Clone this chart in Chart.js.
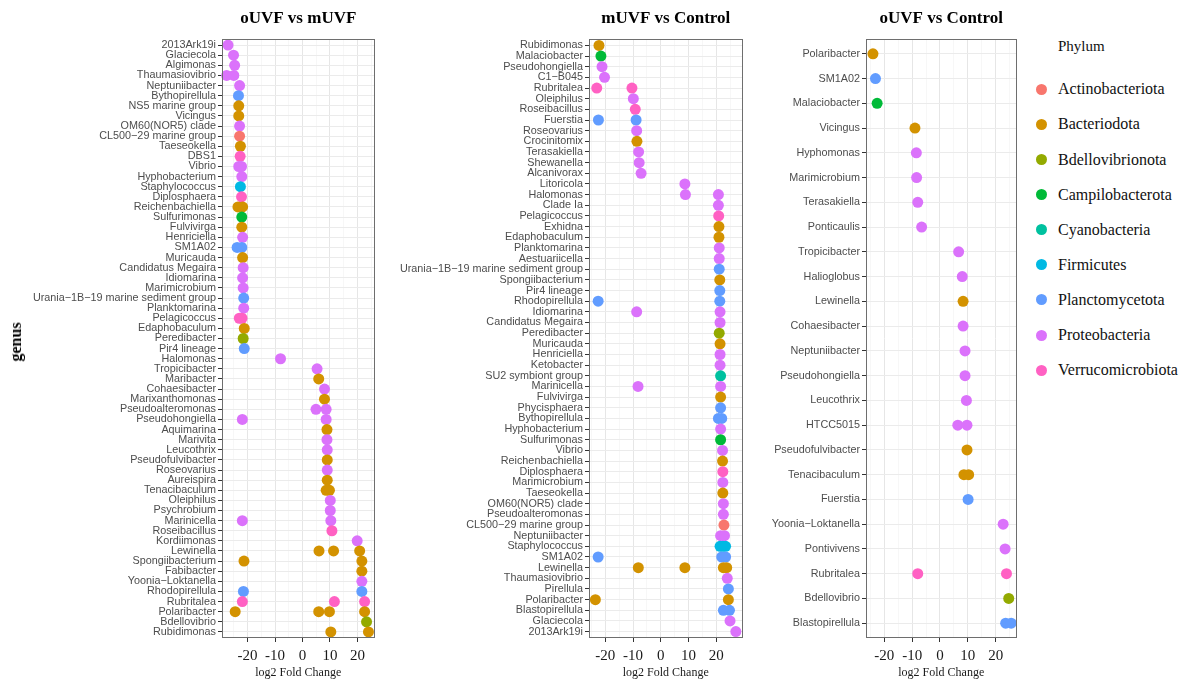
<!DOCTYPE html>
<html>
<head>
<meta charset="utf-8">
<script src="https://cdn.jsdelivr.net/npm/chart.js@4.4.1/dist/chart.umd.min.js"></script>
<style>
  html, body { margin: 0; padding: 0; background: #fff; }
  #wrap { position: relative; width: 1202px; height: 682px; overflow: hidden; }
  #wrap canvas { position: absolute; top: 0; }
  #ytitle {
    position: absolute; left: 16px; top: 342px;
    transform: translate(-50%, -50%) rotate(-90deg);
    font: bold 16px "Liberation Serif", "Times New Roman", serif; color: #000; white-space: nowrap;
  }
  .leg-title { position: absolute; font: 15px "Liberation Serif", serif; color: #111; white-space: nowrap; }
  .leg-item { position: absolute; font: 16px "Liberation Serif", serif; color: #111; white-space: nowrap; line-height: 1; }
  .leg-dot { position: absolute; width: 11px; height: 11px; border-radius: 50%; }
</style>
</head>
<body>
<div id="wrap">
  <canvas id="p1" width="380" height="682" style="left:0px"></canvas>
  <canvas id="p2" width="368" height="682" style="left:380px"></canvas>
  <canvas id="p3" width="272" height="682" style="left:750px"></canvas>
  <div id="ytitle">genus</div>
  <div id="legend"></div>
</div>
<script>
// Phylum levels and their colours
const phyla = ["Actinobacteriota", "Bacteriodota", "Bdellovibrionota", "Campilobacterota",
  "Cyanobacteria", "Firmicutes", "Planctomycetota", "Proteobacteria", "Verrucomicrobiota"];
const phylumColors = ["#F8766D", "#D39200", "#93AA00", "#00BA38", "#00C19F",
  "#00B9E3", "#619CFF", "#DB72FB", "#FF61C3"];

// x-axis ticks (labels every 10, minor grid every 5)
const xTicks = [-25, -20, -15, -10, -5, 0, 5, 10, 15, 20, 25];

// ---- oUVF vs mUVF ----
const genera1 = ["2013Ark19i", "Glaciecola", "Algimonas", "Thaumasiovibrio", "Neptuniibacter",
  "Bythopirellula", "NS5 marine group", "Vicingus", "OM60(NOR5) clade", "CL500\u221229 marine group",
  "Taeseokella", "DBS1", "Vibrio", "Hyphobacterium", "Staphylococcus", "Diplosphaera",
  "Reichenbachiella", "Sulfurimonas", "Fulvivirga", "Henriciella", "SM1A02", "Muricauda",
  "Candidatus Megaira", "Idiomarina", "Marimicrobium", "Urania\u22121B\u221219 marine sediment group",
  "Planktomarina", "Pelagicoccus", "Edaphobaculum", "Peredibacter", "Pir4 lineage", "Halomonas",
  "Tropicibacter", "Maribacter", "Cohaesibacter", "Marixanthomonas", "Pseudoalteromonas",
  "Pseudohongiella", "Aquimarina", "Marivita", "Leucothrix", "Pseudofulvibacter", "Roseovarius",
  "Aureispira", "Tenacibaculum", "Oleiphilus", "Psychrobium", "Marinicella", "Roseibacillus",
  "Kordiimonas", "Lewinella", "Spongiibacterium", "Fabibacter", "Yoonia\u2212Loktanella",
  "Rhodopirellula", "Rubritalea", "Polaribacter", "Bdellovibrio", "Rubidimonas"];
const phylum1 = [7, 7, 7, 7, 7, 6, 1, 1, 7, 0, 1, 8, 7, 7, 5, 8, 1, 3, 1, 7, 6, 1, 7, 7, 7, 6,
  7, 8, 1, 2, 6, 7, 7, 1, 7, 1, 7, 7, 1, 7, 7, 1, 7, 1, 1, 7, 7, 7, 8, 7, 1, 1, 1, 7, 6, 8, 1, 2, 1];
const lfc1 = [[-27.1], [-25.1], [-24.7], [-27.6, -25.0], [-22.9], [-23.3], [-23.2], [-23.2],
  [-22.9], [-22.9], [-22.6], [-22.7], [-23.2, -22.2], [-22.1], [-22.6], [-22.2], [-23.5, -21.8],
  [-22.1], [-22.1], [-21.8], [-23.8, -22.1], [-21.8], [-21.6], [-21.8], [-21.6], [-21.4], [-21.4],
  [-23.0, -22.0], [-21.2], [-21.6], [-21.2], [-8.0], [5.3], [5.9], [8.0], [8.0], [4.9, 8.6],
  [-21.9, 8.6], [8.9], [8.9], [9.0], [9.0], [9.0], [9.0], [8.6, 9.8], [10.1], [10.1],
  [-21.9, 10.3], [10.7], [19.9], [6.0, 11.3, 20.8], [-21.3, 21.6], [21.6], [21.6], [-21.5, 21.6],
  [-21.9, 11.6, 22.6], [-24.5, 5.9, 9.8, 22.6], [23.3], [10.3, 24.0]];

// ---- mUVF vs Control ----
const genera2 = ["Rubidimonas", "Malaciobacter", "Pseudohongiella", "C1\u2212B045", "Rubritalea",
  "Oleiphilus", "Roseibacillus", "Fuerstia", "Roseovarius", "Crocinitomix", "Terasakiella",
  "Shewanella", "Alcanivorax", "Litoricola", "Halomonas", "Clade Ia", "Pelagicoccus", "Exhidna",
  "Edaphobaculum", "Planktomarina", "Aestuariicella", "Urania\u22121B\u221219 marine sediment group",
  "Spongiibacterium", "Pir4 lineage", "Rhodopirellula", "Idiomarina", "Candidatus Megaira",
  "Peredibacter", "Muricauda", "Henriciella", "Ketobacter", "SU2 symbiont group", "Marinicella",
  "Fulvivirga", "Phycisphaera", "Bythopirellula", "Hyphobacterium", "Sulfurimonas", "Vibrio",
  "Reichenbachiella", "Diplosphaera", "Marimicrobium", "Taeseokella", "OM60(NOR5) clade",
  "Pseudoalteromonas", "CL500\u221229 marine group", "Neptuniibacter", "Staphylococcus", "SM1A02",
  "Lewinella", "Thaumasiovibrio", "Pirellula", "Polaribacter", "Blastopirellula", "Glaciecola",
  "2013Ark19i"];
const phylum2 = [1, 3, 7, 7, 8, 7, 8, 6, 7, 1, 7, 7, 7, 7, 7, 7, 8, 1, 1, 7, 7, 6, 1, 6, 6, 7, 7,
  2, 1, 7, 7, 4, 7, 1, 6, 6, 7, 3, 7, 1, 8, 7, 1, 7, 7, 0, 7, 5, 6, 1, 7, 6, 1, 6, 7, 7];
const lfc2 = [[-22.3], [-21.6], [-21.2], [-20.3], [-23.1, -10.4], [-9.9], [-9.2], [-22.5, -8.9],
  [-8.7], [-8.6], [-8.0], [-7.8], [-7.1], [8.7], [8.9, 20.8], [20.8], [20.9], [21.0], [21.0],
  [21.1], [21.1], [21.1], [21.3], [21.3], [-22.6, 21.3], [-8.7, 21.4], [21.4], [21.1], [21.4],
  [21.4], [21.4], [21.6], [-8.2, 21.6], [21.6], [21.6], [20.8, 22.0], [21.6], [21.6], [22.3],
  [22.3], [22.4], [22.4], [22.4], [22.6], [22.6], [22.8], [21.6, 23.0], [21.4, 22.4, 23.4],
  [-22.6, 22.0, 23.4], [-8.1, 8.7, 22.6, 23.8], [24.0], [24.4], [-23.6, 24.4], [22.6, 24.8],
  [25.0], [27.1]];

// ---- oUVF vs Control ----
const genera3 = ["Polaribacter", "SM1A02", "Malaciobacter", "Vicingus", "Hyphomonas",
  "Marimicrobium", "Terasakiella", "Ponticaulis", "Tropicibacter", "Halioglobus", "Lewinella",
  "Cohaesibacter", "Neptuniibacter", "Pseudohongiella", "Leucothrix", "HTCC5015",
  "Pseudofulvibacter", "Tenacibaculum", "Fuerstia", "Yoonia\u2212Loktanella", "Pontivivens",
  "Rubritalea", "Bdellovibrio", "Blastopirellula"];
const phylum3 = [1, 6, 3, 1, 7, 7, 7, 7, 7, 7, 1, 7, 7, 7, 7, 7, 1, 1, 6, 7, 7, 8, 2, 6];
const lfc3 = [[-24.1], [-23.2], [-22.6], [-9.0], [-8.5], [-8.4], [-8.0], [-6.6], [6.7], [8.0],
  [8.3], [8.3], [9.0], [9.0], [9.5], [6.4, 9.7], [9.7], [8.6, 10.3], [10.1], [22.7], [23.4],
  [-8.0, 23.9], [24.7], [23.6, 25.6]];

// Frame + centred heading for each panel
const panelDecor = {
  id: 'panelDecor',
  afterDatasetsDraw(chart, args, opts) {
    const { ctx, chartArea: a } = chart;
    ctx.save();
    ctx.strokeStyle = '#6e6e6e';
    ctx.lineWidth = 1;
    ctx.strokeRect(Math.round(a.left) + 0.5, Math.round(a.top) + 0.5,
      Math.round(a.right - a.left) - 1, Math.round(a.bottom - a.top) - 1);
    ctx.fillStyle = '#000';
    ctx.font = 'bold 17px "Liberation Serif", "Times New Roman", serif';
    ctx.textAlign = 'center';
    ctx.textBaseline = 'middle';
    ctx.fillText(opts.text, (a.left + a.right) / 2, 19);
    ctx.restore();
  }
};

function makePanel(id, title, genera, phylum, lfc, xmin, xmax, axisWidth, padRight) {
  const pts = [], cols = [];
  lfc.forEach((vals, i) => vals.forEach(v => {
    pts.push({ x: v, y: i });
    cols.push(phylumColors[phylum[i]]);
  }));
  const isMajor = c => c.tick && c.tick.value % 10 === 0;
  return new Chart(document.getElementById(id), {
    type: 'scatter',
    data: {
      datasets: [{
        data: pts,
        backgroundColor: cols,
        borderColor: cols,
        pointBackgroundColor: cols,
        pointBorderWidth: 0,
        pointRadius: 5.5,
        clip: false
      }]
    },
    options: {
      responsive: false,
      animation: false,
      events: [],
      layout: { padding: { top: 39, right: padRight, left: 0, bottom: 0 } },
      plugins: {
        legend: { display: false },
        tooltip: { enabled: false },
        panelDecor: { text: title }
      },
      scales: {
        x: {
          type: 'linear', position: 'bottom', min: xmin, max: xmax,
          afterBuildTicks: s => { s.ticks = xTicks.filter(v => v >= s.min && v <= s.max).map(v => ({ value: v })); },
          afterFit: s => { s.height = 44; },
          ticks: {
            autoSkip: false, maxRotation: 0, padding: 5,
            callback: v => (v % 10 === 0 ? String(v) : ''),
            font: { family: '"Liberation Serif", "Times New Roman", serif', size: 15 },
            color: '#1a1a1a'
          },
          grid: {
            color: c => (isMajor(c) ? '#e6e6e6' : '#f3f3f3'),
            lineWidth: c => (isMajor(c) ? 1 : 0.7),
            tickColor: c => (isMajor(c) ? '#333333' : 'rgba(0,0,0,0)'),
            tickLength: 4
          },
          border: { display: false },
          title: {
            display: true, text: 'log2 Fold Change', color: '#1a1a1a',
            font: { family: '"Liberation Serif", "Times New Roman", serif', size: 12 },
            padding: { top: 0, bottom: 2 }
          }
        },
        y: {
          type: 'linear', reverse: true, min: -0.6, max: genera.length - 1 + 0.6,
          afterBuildTicks: s => { s.ticks = genera.map((g, i) => ({ value: i })); },
          afterFit: s => { s.width = axisWidth; },
          ticks: {
            autoSkip: false, padding: 2,
            callback: v => genera[Math.round(v)],
            font: { family: '"Liberation Sans", Arial, sans-serif', size: 10.8 },
            color: '#4d4d4d'
          },
          grid: { color: '#ebebeb', lineWidth: 1, tickColor: '#333333', tickLength: 4 },
          border: { display: false }
        }
      }
    },
    plugins: [panelDecor]
  });
}

makePanel('p1', 'oUVF vs mUVF', genera1, phylum1, lfc1, -29.3, 26.2, 222, 3);
makePanel('p2', 'mUVF vs Control', genera2, phylum2, lfc2, -25.9, 29.5, 209, 4);
makePanel('p3', 'oUVF vs Control', genera3, phylum3, lfc3, -26.6, 27.5, 116, 2);

// Phylum key
const legend = document.getElementById('legend');
const head = document.createElement('div');
head.className = 'leg-title';
head.textContent = 'Phylum';
head.style.left = '1058px';
head.style.top = '38px';
legend.appendChild(head);
phyla.forEach((p, i) => {
  const cy = 89.3 + i * 35.1;
  const dot = document.createElement('div');
  dot.className = 'leg-dot';
  dot.style.background = phylumColors[i];
  dot.style.left = (1041.5 - 5.5) + 'px';
  dot.style.top = (cy - 5.5) + 'px';
  legend.appendChild(dot);
  const lab = document.createElement('div');
  lab.className = 'leg-item';
  lab.textContent = p;
  lab.style.left = '1058px';
  lab.style.top = (cy - 8) + 'px';
  legend.appendChild(lab);
});
</script>
</body>
</html>
